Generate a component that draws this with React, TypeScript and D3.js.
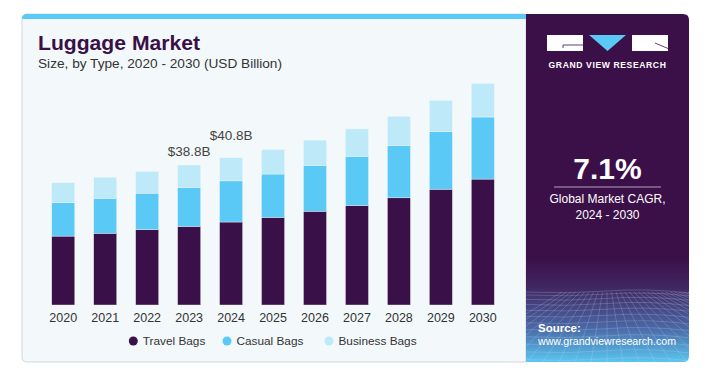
import * as d3 from 'd3';
import React from 'react';

// values (USD Billion)
const years = ['2020', '2021', '2022', '2023', '2024', '2025', '2026', '2027', '2028', '2029', '2030'];
const travelBags = [19.1, 19.9, 20.9, 21.8, 23.0, 24.3, 26.0, 27.6, 29.7, 32.1, 34.9];
const casualBags = [9.3, 9.7, 10.1, 10.8, 11.4, 12.0, 12.7, 13.6, 14.5, 15.9, 17.2];
const businessBags = [5.5, 5.8, 6.0, 6.2, 6.4, 6.8, 7.0, 7.6, 8.1, 8.7, 9.3];
const seriesNames = ['Travel Bags', 'Casual Bags', 'Business Bags'];
const seriesColors = ['#3a1048', '#5bc9f5', '#bde9f9'];
const callouts = [
	{ year: '2023', label: '$38.8B', dy: -9 },
	{ year: '2024', label: '$40.8B', dy: -18 },
];

const W = 717;
const H = 373;
const font = '"Liberation Sans", Arial, sans-serif';

const App = () => {
	const rows = years.map((y, i) => ({
		year: y,
		travel: travelBags[i],
		casual: casualBags[i],
		business: businessBags[i],
	}));
	const stack = d3.stack<any>().keys(['travel', 'casual', 'business'])(rows);

	const x = d3
		.scaleBand()
		.domain(years)
		.range([42.3, 503.8])
		.paddingInner(0.45)
		.paddingOuter(0.225);
	const y = d3.scaleLinear().domain([0, 38.8]).range([305, 165]);

	const totals = rows.map(r => r.travel + r.casual + r.business);

	// decorative grid in the bottom of the side panel
	const gridV = d3.range(-10, 22);
	const gridH = d3.range(0, 14).map(i => 292 + Math.pow(i, 1.3) * 3);

	return (
		<svg width={W} height={H} style={{ position: 'absolute', left: 0, top: 0 }} fontFamily={font}>
			<defs>
				<linearGradient id="panelGrad" x1="0" y1="0" x2="0" y2="1">
					<stop offset="0" stopColor="#3b1049" />
					<stop offset="0.7" stopColor="#3b1049" />
					<stop offset="0.78" stopColor="#40245e" />
					<stop offset="0.9" stopColor="#4a66a4" />
					<stop offset="1" stopColor="#5ac6f0" />
				</linearGradient>
				<clipPath id="panelClip">
					<path d="M526,14 H683 Q689,14 689,20 V356 Q689,362 683,362 H526 Z" />
				</clipPath>
			</defs>
			<rect width={W} height={H} fill="#ffffff" />

			{/* card */}
			<path
				d="M27,14 H526 V362 H27 Q22,362 22,357 V19 Q22,14 27,14 Z"
				fill="#f3f8fb"
				stroke="#d3d6da"
				strokeWidth={1}
			/>
			<path d="M27,14 H526 V19 H22 Q22,14 27,14 Z" fill="#5bc9f5" />

			{/* side panel */}
			<g clipPath="url(#panelClip)">
				<rect x={526} y={14} width={163} height={348} fill="url(#panelGrad)" />
				<g stroke="#c4ddf5" strokeOpacity={0.32} strokeWidth={0.7} fill="none">
					{gridH.map((gy, i) => (
						<path key={'h' + i} d={`M526,${gy} Q567,${gy + 2} 607,${gy - 1} T689,${gy + 1}`} />
					))}
					{gridV.map(i => (
						<line key={'v' + i} x1={607 + i * 4.5} y1={292} x2={607 + i * 16} y2={362} />
					))}
				</g>
			</g>

			{/* logo */}
			<rect x={547} y={35} width={36} height={16} fill="#ffffff" />
			<path d="M563,48 V45 H583" stroke="#3b1049" strokeWidth={0.8} fill="none" />
			<path d="M589,35 H626 L607.5,51 Z" fill="#5bc9f5" />
			<rect x={632} y={35} width={36} height={16} fill="#ffffff" />
			<path d="M655,43 L668,48.5" stroke="#3b1049" strokeWidth={0.8} fill="none" />
			<text x={607.5} y={68} textAnchor="middle" fill="#ffffff" fontSize={8.6} fontWeight="bold" letterSpacing={0.6}>
				GRAND VIEW RESEARCH
			</text>

			<text x={607.5} y={179} textAnchor="middle" fill="#ffffff" fontSize={30} fontWeight="bold">
				7.1%
			</text>
			<line x1={554} x2={661} y1={187} y2={187} stroke="#ffffff" strokeOpacity={0.6} strokeWidth={1} />
			<text x={607.5} y={203} textAnchor="middle" fill="#ffffff" fontSize={12}>
				Global Market CAGR,
			</text>
			<text x={607.5} y={218.5} textAnchor="middle" fill="#ffffff" fontSize={12}>
				2024 - 2030
			</text>
			<text x={538} y={332} fill="#ffffff" fontSize={11.5} fontWeight="bold">
				Source:
			</text>
			<text x={538} y={345} fill="#ffffff" fontSize={11.5} textLength={138} lengthAdjust="spacingAndGlyphs">
				www.grandviewresearch.com
			</text>

			{/* titles */}
			<text x={38} y={50} fill="#3a1048" fontSize={21} fontWeight="bold" textLength={162} lengthAdjust="spacingAndGlyphs">
				Luggage Market
			</text>
			<text x={38} y={68} fill="#333333" fontSize={13} textLength={244} lengthAdjust="spacingAndGlyphs">
				Size, by Type, 2020 - 2030 (USD Billion)
			</text>

			{/* bars */}
			{stack.map((s, si) => (
				<g key={s.key} fill={seriesColors[si]}>
					{s.map((d: any) => (
						<rect
							key={d.data.year}
							x={x(d.data.year)}
							y={y(d[1])}
							width={x.bandwidth()}
							height={y(d[0]) - y(d[1])}
							stroke="#f3f8fb"
							strokeWidth={0.4}
						/>
					))}
				</g>
			))}

			{/* callouts */}
			{callouts.map(c => {
				const i = years.indexOf(c.year);
				return (
					<text
						key={c.year}
						x={(x(c.year) as number) + x.bandwidth() / 2}
						y={y(totals[i]) + c.dy}
						textAnchor="middle"
						fill="#444444"
						fontSize={13.5}
					>
						{c.label}
					</text>
				);
			})}

			{/* x axis labels */}
			{years.map(yr => (
				<text
					key={yr}
					x={(x(yr) as number) + x.bandwidth() / 2}
					y={321.5}
					textAnchor="middle"
					fill="#333333"
					fontSize={12.5}
				>
					{yr}
				</text>
			))}

			{/* legend */}
			{seriesNames.map((name, i) => {
				const lx = [133.3, 227, 329][i];
				return (
					<g key={name}>
						<circle cx={lx} cy={341} r={4.5} fill={seriesColors[i]} />
						<text x={lx + 9.5} y={345.3} fill="#333333" fontSize={11.8}>
							{name}
						</text>
					</g>
				);
			})}
		</svg>
	);
};

export default App;
